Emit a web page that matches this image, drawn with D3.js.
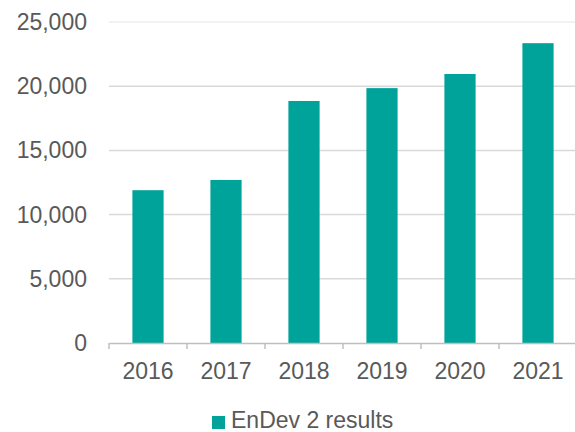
<!DOCTYPE html>
<html>
<head>
<meta charset="utf-8">
<script src="https://cdn.jsdelivr.net/npm/d3@7"></script>
<style>
  body { margin: 0; background: #fff; }
  svg { display: block; font-family: "Liberation Sans", Arial, sans-serif; }
</style>
</head>
<body>
<div id="chart"></div>
<script>
const years = ['2016', '2017', '2018', '2019', '2020', '2021']
const results = [11900, 12700, 18850, 19850, 20950, 23350]
const yTicks = [0, 5000, 10000, 15000, 20000, 25000]
const seriesName = 'EnDev 2 results'

const width = 575, height = 432
const margin = {top: 22, right: -2, bottom: 89, left: 109}

const svg = d3.select('#chart').append('svg')
  .attr('width', width)
  .attr('height', height)

const x = d3.scaleBand()
  .domain(years)
  .range([margin.left, width - margin.right])
  .paddingInner(0.6)
  .paddingOuter(0.3)

const y = d3.scaleLinear()
  .domain([0, 25000])
  .range([height - margin.bottom, margin.top])

const teal = '#00a39a'
const textColor = '#595959'

// gridlines (the top one is fainter in the original)
svg.append('g')
  .selectAll('line')
  .data(yTicks.filter(d => d > 0))
  .enter()
  .append('line')
  .attr('x1', margin.left)
  .attr('x2', width)
  .attr('y1', d => y(d))
  .attr('y2', d => y(d))
  .style('stroke', d => d === 25000 ? '#eeeeee' : '#d9d9d9')
  .style('stroke-width', 1.5)

// y labels
svg.append('g')
  .selectAll('text')
  .data(yTicks)
  .enter()
  .append('text')
  .attr('x', 87)
  .attr('y', d => y(d) + 8)
  .attr('text-anchor', 'end')
  .style('font-size', '23px')
  .style('fill', textColor)
  .text(d => d3.format(',')(d))

// bars
svg.append('g')
  .selectAll('rect')
  .data(years.map((d, i) => ({year: d, value: results[i]})))
  .enter()
  .append('rect')
  .attr('x', d => x(d.year))
  .attr('y', d => y(d.value))
  .attr('width', x.bandwidth())
  .attr('height', d => y(0) - y(d.value))
  .style('fill', teal)

// x axis
const xAxis = d3.axisBottom(x)
  .tickSize(0)
  .tickSizeOuter(0)

const gx = svg.append('g')
  .attr('transform', 'translate(0,' + y(0) + ')')
  .call(xAxis)

gx.select('.domain').style('stroke', '#bfbfbf').style('stroke-width', 1.5)
gx.selectAll('text')
  .attr('dy', 0)
  .attr('y', 36)
  .style('font-size', '23px')
  .style('font-family', '"Liberation Sans", Arial, sans-serif')
  .style('fill', textColor)

// tick marks on band boundaries
const step = x.step()
const bounds = years.map(d => x(d) - x.paddingOuter() * step)
gx.selectAll('.bound')
  .data(bounds)
  .enter()
  .append('line')
  .attr('class', 'bound')
  .attr('x1', d => d)
  .attr('x2', d => d)
  .attr('y1', 0)
  .attr('y2', 6)
  .style('stroke', '#bfbfbf')
  .style('stroke-width', 1.5)

// legend
const legend = svg.append('g')
  .attr('transform', 'translate(212,416)')

legend.append('rect')
  .attr('width', 13)
  .attr('height', 13)
  .style('fill', teal)

legend.append('text')
  .attr('x', 19)
  .attr('y', 12)
  .style('font-size', '23px')
  .style('fill', textColor)
  .text(seriesName)
</script>
</body>
</html>
